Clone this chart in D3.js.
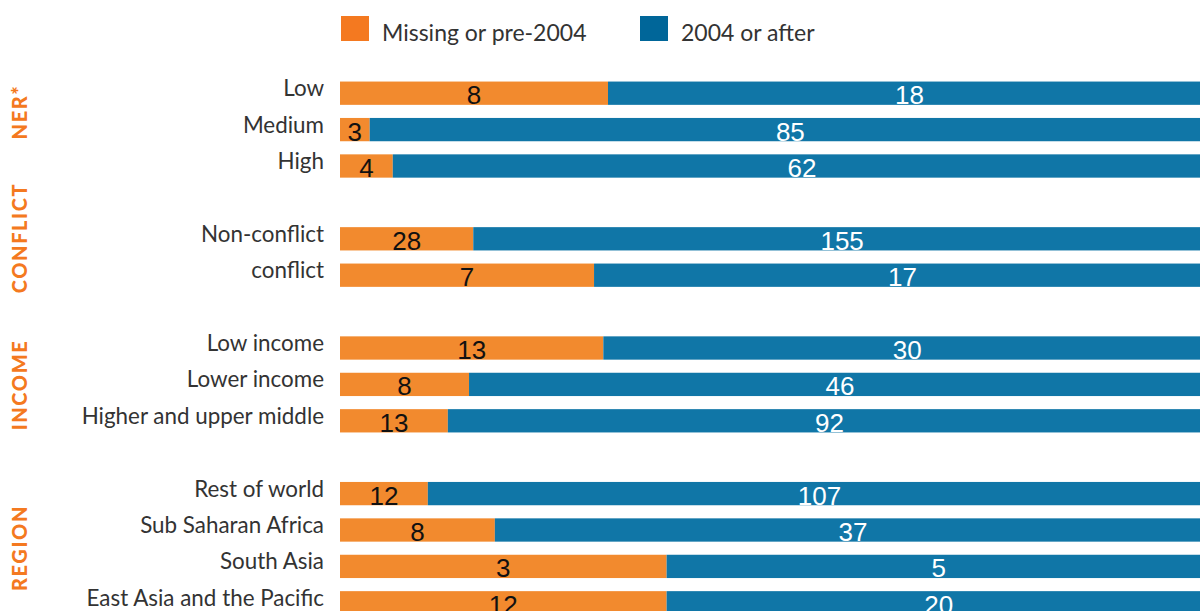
<!DOCTYPE html>
<html>
  <head>
    <meta charset="utf-8">
    <style>
    body { margin: 0; background: #fff; overflow: hidden; }
    .cat { font-family: Lato, "Open Sans", sans-serif; font-size: 22.4px; fill: #333; }
    .grp { font-family: Lato, "Open Sans", sans-serif; font-size: 20px; font-weight: 900; fill: #f47920; letter-spacing: 1.6px; }
    .val { font-family: "Liberation Sans", Arial, sans-serif; font-size: 26px; }
    .leg { font-family: Lato, "Open Sans", sans-serif; font-size: 23px; fill: #333; }
    </style>
  </head>
  <body>
    <div id="chart"></div>
    <script src="https://d3js.org/d3.v7.min.js"></script>
    <script>

var categories = ["Low", "Medium", "High", "", "Non-conflict", "conflict", "",
  "Low income", "Lower income", "Higher and upper middle", "",
  "Rest of world", "Sub Saharan Africa", "South Asia", "East Asia and the Pacific"];
var missing = [8, 3, 4, null, 28, 7, null, 13, 8, 13, null, 12, 8, 3, 12];
var after   = [18, 85, 62, null, 155, 17, null, 30, 46, 92, null, 107, 37, 5, 20];

var groups = ["NER*", "CONFLICT", "INCOME", "REGION"];
var groupCentres = [112, 238, 385, 548];

var seriesNames = ["Missing or pre-2004", "2004 or after"];
var barColours = ["#f28a2e", "#1076a7"];
var legendColours = ["#f47920", "#006699"];

var width = 1200, height = 611;

var svg = d3.select("#chart").append("svg")
    .attr("width", width)
    .attr("height", height);

var rows = categories.map(function(c, i){ return i; });

var y = d3.scaleBand()
    .domain(rows)
    .range([75, 621])
    .paddingInner(0.36)
    .paddingOuter(0.18);

var x = d3.scaleLinear()
    .domain([0, 1])
    .range([340, 1211]);

var data = rows.filter(function(i){ return missing[i] != null; }).map(function(i){
  var total = missing[i] + after[i];
  return { i: i, name: categories[i], a: missing[i], b: after[i], p: missing[i] / total };
});

// orange part
svg.selectAll(".bar-a")
  .data(data)
  .enter().append("rect")
    .attr("x", x(0))
    .attr("y", function(d){ return y(d.i); })
    .attr("width", function(d){ return x(d.p) - x(0); })
    .attr("height", y.bandwidth())
    .style("fill", barColours[0]);

// blue part
svg.selectAll(".bar-b")
  .data(data)
  .enter().append("rect")
    .attr("x", function(d){ return x(d.p); })
    .attr("y", function(d){ return y(d.i); })
    .attr("width", function(d){ return x(1) - x(d.p); })
    .attr("height", y.bandwidth())
    .style("fill", barColours[1]);

svg.selectAll(".val-a")
  .data(data)
  .enter().append("text")
    .attr("class", "val")
    .attr("x", function(d){ return (x(0) + x(d.p)) / 2; })
    .attr("y", function(d){ return y(d.i) + y.bandwidth() / 2 + 11; })
    .attr("text-anchor", "middle")
    .style("fill", "#111")
    .text(function(d){ return d.a; });

svg.selectAll(".val-b")
  .data(data)
  .enter().append("text")
    .attr("class", "val")
    .attr("x", function(d){ return (x(d.p) + x(1)) / 2; })
    .attr("y", function(d){ return y(d.i) + y.bandwidth() / 2 + 11; })
    .attr("text-anchor", "middle")
    .style("fill", "#fff")
    .text(function(d){ return d.b; });

// category labels
svg.selectAll(".cat")
  .data(data)
  .enter().append("text")
    .attr("class", "cat")
    .attr("x", 324)
    .attr("y", function(d){ return y(d.i) + y.bandwidth() / 2 + 3; })
    .attr("text-anchor", "end")
    .text(function(d){ return d.name; });

// group labels, rotated
groups.forEach(function(g, k){
  svg.append("text")
    .attr("class", "grp")
    .attr("transform", "translate(26.5," + groupCentres[k] + ") rotate(-90)")
    .attr("text-anchor", "middle")
    .text(g);
});

// legend
var legX = [341, 640];
seriesNames.forEach(function(s, k){
  svg.append("rect")
    .attr("x", legX[k])
    .attr("y", 16)
    .attr("width", 28)
    .attr("height", 25)
    .style("fill", legendColours[k]);
  svg.append("text")
    .attr("class", "leg")
    .attr("x", legX[k] + 41)
    .attr("y", 41)
    .text(s);
});

    </script>
  </body>
</html>
